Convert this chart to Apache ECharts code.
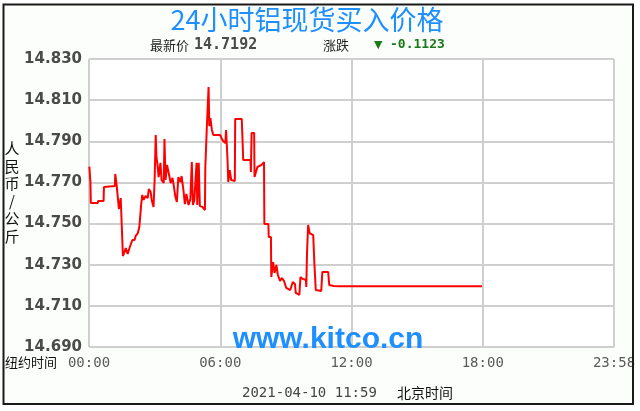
<!DOCTYPE html>
<html><head><meta charset="utf-8">
<script src="https://cdn.jsdelivr.net/npm/echarts@6/dist/echarts.min.js"></script>
<style>html,body{margin:0;padding:0;background:#fff;}#c{width:640px;height:411px;}</style>
</head><body><div id="c"></div>
<script>
// minutes after 00:00 New York time
const times = [1,4,5,24,25,40,41,46,71,72,
75,76,81,82,86,87,91,93,98,101,
106,112,119,125,128,134,138,142,143,146,
150,155,161,164,169,172,177,180,183,185,
188,191,196,199,205,207,210,214,218,224,
229,233,237,241,245,251,254,259,263,267,
273,278,282,285,289,295,297,301,304,311,
318,319,323,327,328,330,333,337,341,360,
363,368,374,376,379,380,382,386,390,395,
400,401,419,421,423,443,444,446,453,454,
458,462,473,480,481,492,493,499,500,505,
509,514,518,524,529,535,539,541,552,559,
565,567,577,580,586,595,596,598,601,605,
615,618,622,637,640,656,659,671,676,687,
1078];
const prices = [14.7777,14.7697,14.7600,14.7600,14.7610,14.7610,14.7678,14.7683,14.7683,14.7741,
14.7741,14.7683,14.7683,14.7571,14.7571,14.7624,14.7624,14.7342,14.7338,14.7381,
14.7352,14.7386,14.7420,14.7420,14.7440,14.7454,14.7483,14.7488,14.7590,14.7639,
14.7615,14.7634,14.7624,14.7668,14.7654,14.7615,14.7581,14.7712,14.7931,14.7824,
14.7785,14.7726,14.7795,14.7712,14.7697,14.7911,14.7712,14.7785,14.7751,14.7697,
14.7722,14.7678,14.7629,14.7605,14.7726,14.7702,14.7731,14.7663,14.7595,14.7644,
14.7590,14.7619,14.7799,14.7590,14.7615,14.7795,14.7590,14.7795,14.7585,14.7581,
14.7566,14.7770,14.7960,14.7955,14.8164,14.7974,14.8013,14.7955,14.7931,14.7931,
14.7916,14.7901,14.7892,14.7955,14.7955,14.7809,14.7702,14.7760,14.7712,14.7712,
14.7707,14.8008,14.8008,14.7911,14.7809,14.7809,14.7751,14.7940,14.7940,14.7726,
14.7751,14.7775,14.7785,14.7799,14.7498,14.7498,14.7435,14.7435,14.7240,14.7313,
14.7260,14.7299,14.7250,14.7221,14.7235,14.7221,14.7226,14.7187,14.7177,14.7216,
14.7206,14.7163,14.7153,14.7240,14.7231,14.7226,14.7192,14.7357,14.7493,14.7454,
14.7444,14.7313,14.7177,14.7172,14.7265,14.7265,14.7201,14.7197,14.7195,14.7195,
14.7195];
const xTickLabels = {0:'00:00',360:'06:00',720:'12:00',1080:'18:00',1440:'23:58'};
const yMin = 14.69, yMax = 14.83, yStep = 0.02;
const titleText = '24小时铝现货买入价格';
const latestLabel = '最新价', latestValue = '14.7192';
const changeLabel = '涨跌', changeValue = '-0.1123';
const unitText = '人民币/公斤';
const nyLabel = '纽约时间';
const dateText = '2021-04-10 11:59', bjLabel = '北京时间';
const watermark = 'www.kitco.cn';

const chart = echarts.init(document.getElementById('c'), null, {renderer:'canvas'});
const data = times.map((t,i)=>[t,prices[i]]);
const cjk = '"Noto Sans CJK SC", sans-serif';
chart.setOption({
  backgroundColor:'#ffffff',
  animation:false,
  grid:{left:89,right:26,top:59,bottom:64,show:true,backgroundColor:'#ffffff',borderWidth:0},
  xAxis:{type:'value',min:0,max:1440,interval:360,
    axisLine:{show:false},axisTick:{show:false},
    splitLine:{show:true,lineStyle:{color:'#cfcfcf',width:2}},
    axisLabel:{margin:9,color:'#5a5a5a',fontFamily:'"DejaVu Sans Mono", monospace',fontSize:14,
      formatter:v=>xTickLabels[v]!==undefined?xTickLabels[v]:''}},
  yAxis:{type:'value',min:yMin,max:yMax,interval:yStep,
    axisLine:{show:false},axisTick:{show:false},
    splitLine:{show:true,lineStyle:{color:'#cfcfcf',width:2}},
    axisLabel:{margin:7,color:'#4a4a4a',fontFamily:'"DejaVu Sans", sans-serif',fontWeight:'bold',fontSize:15,
      formatter:v=>v.toFixed(3)}},
  series:[{type:'line',data:data,symbol:'none',lineStyle:{color:'#ff0000',width:2},z:3}],
  graphic:[
    {type:'rect',z:-10,silent:true,shape:{x:3.5,y:4.5,width:629.5,height:399.5},style:{fill:'#fcfefb',stroke:null}},
    {type:'rect',z:100,silent:true,shape:{x:3.5,y:4.5,width:629.5,height:399.5},style:{fill:null,stroke:'#1a1a1a',lineWidth:2}},
    {type:'text',x:307,y:20,style:{text:titleText,font:'27px '+cjk,fill:'#1e8fff',textAlign:'center',textVerticalAlign:'middle'}},
    {type:'text',x:150,y:45,style:{text:latestLabel,font:'13px '+cjk,fill:'#222',textVerticalAlign:'middle'}},
    {type:'text',x:194,y:45,style:{text:latestValue,font:'bold 15px "DejaVu Sans Mono"',fill:'#4a4a4a',textVerticalAlign:'middle'}},
    {type:'text',x:323,y:45,style:{text:changeLabel,font:'13px '+cjk,fill:'#222',textVerticalAlign:'middle'}},
    {type:'text',x:374,y:45,style:{text:'▼',font:'11px "DejaVu Sans"',fill:'#1a7a1a',textVerticalAlign:'middle'}},
    {type:'text',x:390,y:45,style:{text:changeValue,font:'bold 13px "DejaVu Sans Mono"',fill:'#1a7a1a',textVerticalAlign:'middle'}},
    {type:'text',x:12,y:140,style:{text:unitText.split('').join('\n'),font:'15px '+cjk,lineHeight:17.5,fill:'#111',textAlign:'center'}},
    {type:'text',x:5,y:362,style:{text:nyLabel,font:'13px '+cjk,fill:'#111',textVerticalAlign:'middle'}},
    {type:'text',x:242,y:393,style:{text:dateText,font:'14px "DejaVu Sans Mono"',fill:'#444',textVerticalAlign:'middle'}},
    {type:'text',x:397,y:393,style:{text:bjLabel,font:'14px '+cjk,fill:'#111',textVerticalAlign:'middle'}},
    {type:'text',x:328,y:340,z:50,style:{text:watermark,font:'bold 30px "Liberation Sans", Arial',fill:'#1e8fff',textAlign:'center',textVerticalAlign:'middle'}}
  ]
});
</script></body></html>
